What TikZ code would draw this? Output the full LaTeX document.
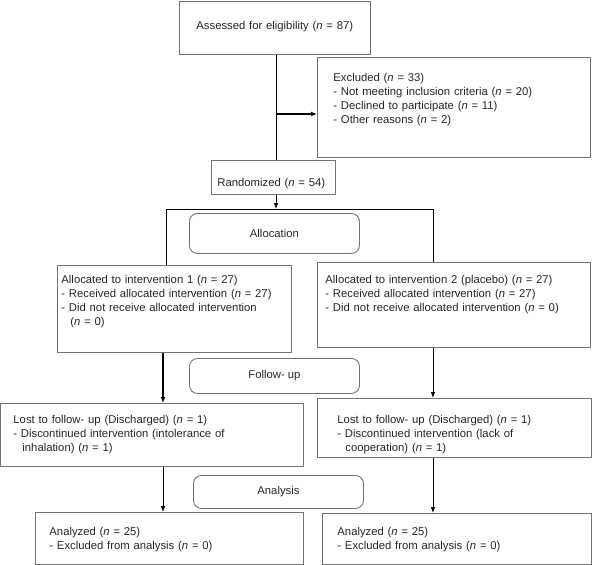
\documentclass[tikz,border=0pt]{standalone}
\usepackage{fontspec}
\setmainfont{Liberation Sans}
\usetikzlibrary{arrows.meta}

\begin{document}
\begin{tikzpicture}[x=1pt,y=-1pt,font=\fontsize{11.3}{14}\selectfont,text=black!85,
    box/.style={draw=black!55,line width=.9pt,anchor=north west,inner ysep=0pt,align=left},
    stage/.style={draw=black!55,line width=.9pt,rounded corners=8pt,anchor=north west,
      inner sep=0pt,minimum width=170pt},
    link/.style={line width=.8pt},
    arr/.style={-{Latex[length=6pt,width=4.5pt]},line width=.8pt},
    thickarr/.style={-{Latex[length=6pt,width=5pt]},line width=1.6pt}]
      \useasboundingbox (0,0) rectangle (606,565);
      \node[box,inner xsep=17pt,text width=157pt,text height=28.5pt,text depth=24.5pt]
        (assess) at (179,1) {Assessed for eligibility (\textit{n} = 87)};
      \node[box,inner xsep=16pt,text width=241pt,text height=24pt,text depth=76pt]
        (excl) at (317,57) {Excluded (\textit{n} = 33)\\
        - Not meeting inclusion criteria (\textit{n} = 20)\\
        - Declined to participate (\textit{n} = 11)\\
        - Other reasons (\textit{n} = 2)};
      \node[box,inner xsep=6pt,text width=112pt,text height=26.5pt,text depth=7.5pt]
        (rand) at (211,160) {Randomized (\textit{n} = 54)};
      \node[stage,minimum height=40pt] (alloc) at (189,213) {Allocation};
      \node[box,inner xsep=4pt,text width=226pt,text height=18.5pt,text depth=68.5pt]
        (alloc1) at (57,265) {Allocated to intervention 1 (\textit{n} = 27)\\
        - Received allocated intervention (\textit{n} = 27)\\
        - Did not receive allocated intervention\\
        \hspace*{9pt}(\textit{n} = 0)};
      \node[box,inner xsep=8pt,text width=257pt,text height=21.5pt,text depth=63.5pt]
        (alloc2) at (317,262) {Allocated to intervention 2 (placebo) (\textit{n} = 27)\\
        - Received allocated intervention (\textit{n} = 27)\\
        - Did not receive allocated intervention (\textit{n} = 0)};
      \node[stage,minimum height=35pt] (follow) at (189,358) {Follow- up};
      \node[box,inner xsep=13pt,text width=277pt,text height=20pt,text depth=43pt]
        (lost1) at (0,403) {Lost to follow- up (Discharged) (\textit{n} = 1)\\
        - Discontinued intervention (intolerance of\\
        \hspace*{9pt}inhalation) (\textit{n} = 1)};
      \node[box,inner xsep=20pt,text width=234pt,text height=25pt,text depth=34pt]
        (lost2) at (317,398) {Lost to follow- up (Discharged) (\textit{n} = 1)\\
        - Discontinued intervention (lack of\\
        \hspace*{8pt}cooperation) (\textit{n} = 1)};
      \node[stage,minimum height=33pt] (analysis) at (193,475) {Analysis};
      \node[box,inner xsep=14pt,text width=240pt,text height=23pt,text depth=29pt]
        (anlz1) at (35,512) {Analyzed (\textit{n} = 25)\\
        - Excluded from analysis (\textit{n} = 0)};
      \node[box,inner xsep=15pt,text width=239pt,text height=22pt,text depth=29pt]
        (anlz2) at (322,513) {Analyzed (\textit{n} = 25)\\
        - Excluded from analysis (\textit{n} = 0)};
      \coordinate (split) at (276,114);
      \coordinate (lsplit) at (166,209);
      \coordinate (rcol) at (433,209);
      \coordinate (lcol) at (163,209);
      \draw[link] (assess.south -| split) -- (rand.north -| split);
      \draw[thickarr] (split) -- (excl.west |- split);
      \draw[arr] (rand.south -| split) -- (split |- rcol);
      \draw[link] (alloc1.north -| lsplit) -- (lsplit) -- (rcol) -- (alloc2.north -| rcol);
      \draw[thickarr] (alloc1.south -| lcol) -- (lost1.north -| lcol);
      \draw[arr] (lost1.south -| lcol) -- (anlz1.north -| lcol);
      \draw[arr] (alloc2.south -| rcol) -- (lost2.north -| rcol);
      \draw[arr] (lost2.south -| rcol) -- (anlz2.north -| rcol);
    \end{tikzpicture}
\end{document}
